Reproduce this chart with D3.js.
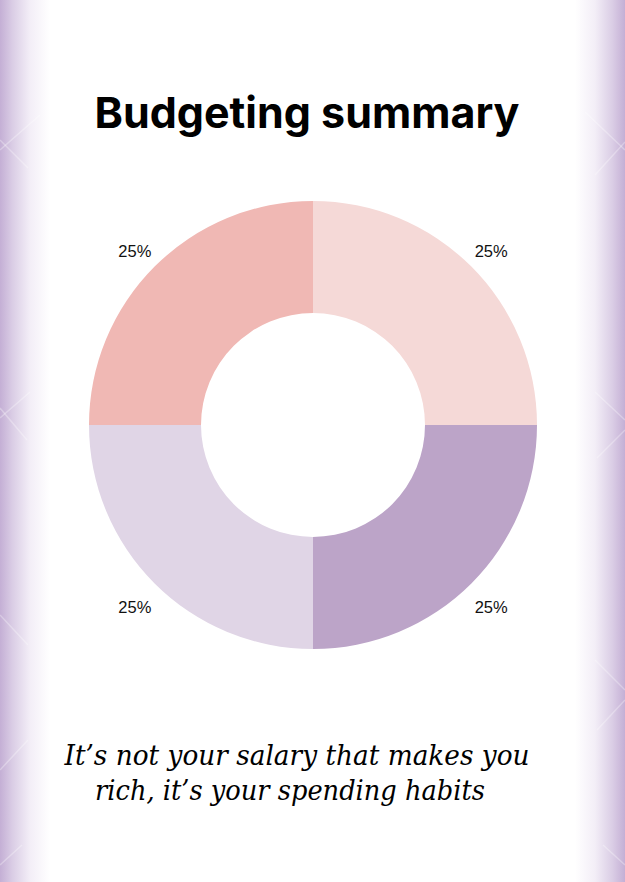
<!DOCTYPE html>
<html><head><meta charset="utf-8">
<script src="https://cdn.jsdelivr.net/npm/d3@7"></script>
<style>html,body{margin:0;padding:0;background:#fff;overflow:hidden}</style>
</head><body>
<script>
const categories = ["Category 1", "Category 2", "Category 3", "Category 4"];
const values = [25, 25, 25, 25];
const colors = ["#F5D9D7", "#BCA4C8", "#E0D5E6", "#F0B8B4"];
const title = "Budgeting summary";
const quoteLines = ["It\u2019s not your salary that makes you", "rich, it\u2019s your spending habits"];

const W = 625, H = 882;
const svg = d3.select("body").append("svg").attr("width", W).attr("height", H);
const defs = svg.append("defs");

function edgeGrad(id, x1, x2, c) {
  const g = defs.append("linearGradient").attr("id", id).attr("x1", x1).attr("x2", x2).attr("y1", 0).attr("y2", 0);
  g.append("stop").attr("offset", 0).attr("stop-color", c);
  g.append("stop").attr("offset", 0.25).attr("stop-color", "#dacde5");
  g.append("stop").attr("offset", 0.6).attr("stop-color", "#f3eef7");
  g.append("stop").attr("offset", 1).attr("stop-color", "#ffffff");
}
edgeGrad("gl", 0, 1, "#c4afd5");
edgeGrad("gr", 1, 0, "#c4afd5");

svg.append("rect").attr("width", W).attr("height", H).attr("fill", "#fff");
svg.append("rect").attr("x", 0).attr("y", 0).attr("width", 50).attr("height", H).attr("fill", "url(#gl)");
svg.append("rect").attr("x", W - 50).attr("y", 0).attr("width", 50).attr("height", H).attr("fill", "url(#gr)");

// faint diagonal light streaks on edges
const streaks = [[0,150,40,115],[0,140,28,168],[0,418,30,392],[0,408,27,440],[0,615,28,645],[0,770,28,740],
                 [0,865,22,845],
                 [W,150,W-40,112],[W,142,W-30,175],[W,420,W-30,392],[W,430,W-28,458],[W,690,W-30,660],[W,700,W-28,730],
                 [W,865,W-22,845]];
svg.append("g").selectAll("line").data(streaks).join("line")
  .attr("x1", d => d[0]).attr("y1", d => d[1]).attr("x2", d => d[2]).attr("y2", d => d[3])
  .attr("stroke", "#fff").attr("stroke-opacity", 0.3).attr("stroke-width", 1.5);

svg.append("text").attr("x", 307).attr("y", 128).attr("text-anchor", "middle")
  .attr("font-family", "Inter, Lato, sans-serif").attr("font-weight", 700).attr("font-size", 43)
  .style("font-variant-ligatures", "none")
  .attr("fill", "#000").text(title);

const cx = 313, cy = 425, R = 224, r = 112;
const pie = d3.pie().sort(null).value(d => d.v);
const data = pie(categories.map((c, i) => ({ c, v: values[i], col: colors[i] })));
const arc = d3.arc().innerRadius(r).outerRadius(R);
const labelArc = d3.arc().innerRadius(252).outerRadius(252);
const g = svg.append("g").attr("transform", `translate(${cx},${cy})`);
g.selectAll("path").data(data).join("path").attr("d", arc).attr("fill", d => d.data.col);
g.selectAll("text").data(data).join("text")
  .attr("transform", d => `translate(${labelArc.centroid(d)})`)
  .attr("text-anchor", "middle").attr("dy", "0.62em")
  .attr("font-family", "'Liberation Sans', Arial, sans-serif").attr("font-size", 16.5).attr("fill", "#111")
  .text(d => d.data.v + "%");

const qW = [465, 390], qX = [297, 290];
svg.append("g").selectAll("text").data(quoteLines).join("text")
  .attr("x", (d, i) => qX[i] - qW[i] / 2).attr("y", (d, i) => 765 + i * 35)
  .attr("textLength", (d, i) => qW[i]).attr("lengthAdjust", "spacingAndGlyphs")
  .attr("font-family", "'DejaVu Serif', serif").attr("font-style", "italic").attr("font-size", 28)
  .attr("fill", "#000").text(d => d);
</script>
</body></html>
